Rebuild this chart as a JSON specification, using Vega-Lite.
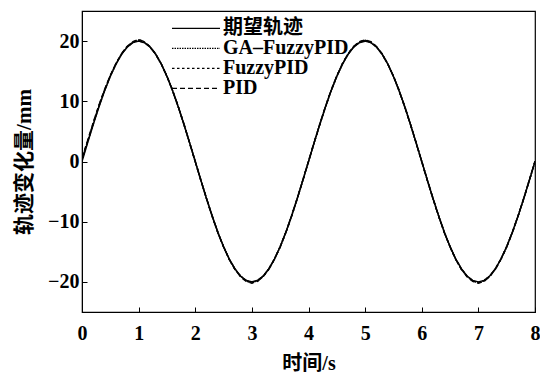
{
  "$schema": "https://vega.github.io/schema/vega-lite/v6.json",
  "width": 453,
  "height": 301,
  "autosize": {"type": "none"},
  "padding": {"left": 82, "top": 11, "right": 5, "bottom": 60},
  "background": "white",
  "config": {
    "view": {"stroke": "black", "strokeWidth": 1.2},
    "axis": {
      "domainColor": "black",
      "tickColor": "black",
      "grid": false,
      "tickSize": -5
    }
  },
  "data": {
    "values": [
      {"t":0.0,"ref":0,"ga":0.3,"fz":0.4,"pid":0.5},
      {"t":0.1,"ref":3.13,"ga":3.3,"fz":3.4,"pid":3.5},
      {"t":0.2,"ref":6.18,"ga":6.3,"fz":6.4,"pid":6.5},
      {"t":0.3,"ref":9.08,"ga":9.2,"fz":9.3,"pid":9.4},
      {"t":0.4,"ref":11.76,"ga":11.85,"fz":11.9,"pid":12.0},
      {"t":0.5,"ref":14.14,"ga":14.2,"fz":14.25,"pid":14.3},
      {"t":0.6,"ref":16.18,"ga":16.2,"fz":16.25,"pid":16.3},
      {"t":0.7,"ref":17.82,"ga":17.85,"fz":17.9,"pid":17.95},
      {"t":0.8,"ref":19.02,"ga":19.05,"fz":19.1,"pid":19.15},
      {"t":0.9,"ref":19.75,"ga":19.8,"fz":19.85,"pid":19.9},
      {"t":1.0,"ref":20,"ga":20.1,"fz":20.2,"pid":20.3},
      {"t":1.1,"ref":19.75,"ga":19.8,"fz":19.85,"pid":19.9},
      {"t":1.2,"ref":19.02,"ga":19.05,"fz":19.1,"pid":19.1},
      {"t":1.3,"ref":17.82,"ga":17.85,"fz":17.85,"pid":17.9},
      {"t":1.4,"ref":16.18,"ga":16.2,"fz":16.2,"pid":16.2},
      {"t":1.5,"ref":14.14,"ga":14.15,"fz":14.15,"pid":14.2},
      {"t":1.6,"ref":11.76,"ga":11.76,"fz":11.8,"pid":11.8},
      {"t":1.7,"ref":9.08,"ga":9.08,"fz":9.1,"pid":9.1},
      {"t":1.8,"ref":6.18,"ga":6.18,"fz":6.2,"pid":6.2},
      {"t":1.9,"ref":3.13,"ga":3.13,"fz":3.1,"pid":3.1},
      {"t":2.0,"ref":0,"ga":0,"fz":0,"pid":0},
      {"t":2.1,"ref":-3.13,"ga":-3.13,"fz":-3.15,"pid":-3.15},
      {"t":2.2,"ref":-6.18,"ga":-6.2,"fz":-6.2,"pid":-6.2},
      {"t":2.3,"ref":-9.08,"ga":-9.1,"fz":-9.1,"pid":-9.1},
      {"t":2.4,"ref":-11.76,"ga":-11.8,"fz":-11.8,"pid":-11.85},
      {"t":2.5,"ref":-14.14,"ga":-14.15,"fz":-14.2,"pid":-14.2},
      {"t":2.6,"ref":-16.18,"ga":-16.2,"fz":-16.25,"pid":-16.25},
      {"t":2.7,"ref":-17.82,"ga":-17.85,"fz":-17.9,"pid":-17.9},
      {"t":2.8,"ref":-19.02,"ga":-19.05,"fz":-19.1,"pid":-19.15},
      {"t":2.9,"ref":-19.75,"ga":-19.8,"fz":-19.85,"pid":-19.9},
      {"t":3.0,"ref":-20,"ga":-20.1,"fz":-20.15,"pid":-20.2},
      {"t":3.1,"ref":-19.75,"ga":-19.8,"fz":-19.85,"pid":-19.9},
      {"t":3.2,"ref":-19.02,"ga":-19.05,"fz":-19.1,"pid":-19.1},
      {"t":3.3,"ref":-17.82,"ga":-17.85,"fz":-17.85,"pid":-17.9},
      {"t":3.4,"ref":-16.18,"ga":-16.2,"fz":-16.2,"pid":-16.2},
      {"t":3.5,"ref":-14.14,"ga":-14.15,"fz":-14.15,"pid":-14.2},
      {"t":3.6,"ref":-11.76,"ga":-11.76,"fz":-11.8,"pid":-11.8},
      {"t":3.7,"ref":-9.08,"ga":-9.08,"fz":-9.1,"pid":-9.1},
      {"t":3.8,"ref":-6.18,"ga":-6.18,"fz":-6.2,"pid":-6.2},
      {"t":3.9,"ref":-3.13,"ga":-3.13,"fz":-3.1,"pid":-3.1},
      {"t":4.0,"ref":0,"ga":0,"fz":0,"pid":0},
      {"t":4.1,"ref":3.13,"ga":3.13,"fz":3.15,"pid":3.15},
      {"t":4.2,"ref":6.18,"ga":6.2,"fz":6.2,"pid":6.2},
      {"t":4.3,"ref":9.08,"ga":9.1,"fz":9.1,"pid":9.1},
      {"t":4.4,"ref":11.76,"ga":11.8,"fz":11.8,"pid":11.85},
      {"t":4.5,"ref":14.14,"ga":14.15,"fz":14.2,"pid":14.2},
      {"t":4.6,"ref":16.18,"ga":16.2,"fz":16.25,"pid":16.25},
      {"t":4.7,"ref":17.82,"ga":17.85,"fz":17.9,"pid":17.9},
      {"t":4.8,"ref":19.02,"ga":19.05,"fz":19.1,"pid":19.15},
      {"t":4.9,"ref":19.75,"ga":19.8,"fz":19.85,"pid":19.9},
      {"t":5.0,"ref":20,"ga":20.1,"fz":20.15,"pid":20.2},
      {"t":5.1,"ref":19.75,"ga":19.8,"fz":19.85,"pid":19.9},
      {"t":5.2,"ref":19.02,"ga":19.05,"fz":19.1,"pid":19.1},
      {"t":5.3,"ref":17.82,"ga":17.85,"fz":17.85,"pid":17.9},
      {"t":5.4,"ref":16.18,"ga":16.2,"fz":16.2,"pid":16.2},
      {"t":5.5,"ref":14.14,"ga":14.15,"fz":14.15,"pid":14.2},
      {"t":5.6,"ref":11.76,"ga":11.76,"fz":11.8,"pid":11.8},
      {"t":5.7,"ref":9.08,"ga":9.08,"fz":9.1,"pid":9.1},
      {"t":5.8,"ref":6.18,"ga":6.18,"fz":6.2,"pid":6.2},
      {"t":5.9,"ref":3.13,"ga":3.13,"fz":3.1,"pid":3.1},
      {"t":6.0,"ref":0,"ga":0,"fz":0,"pid":0},
      {"t":6.1,"ref":-3.13,"ga":-3.13,"fz":-3.15,"pid":-3.15},
      {"t":6.2,"ref":-6.18,"ga":-6.2,"fz":-6.2,"pid":-6.2},
      {"t":6.3,"ref":-9.08,"ga":-9.1,"fz":-9.1,"pid":-9.1},
      {"t":6.4,"ref":-11.76,"ga":-11.8,"fz":-11.8,"pid":-11.85},
      {"t":6.5,"ref":-14.14,"ga":-14.15,"fz":-14.2,"pid":-14.2},
      {"t":6.6,"ref":-16.18,"ga":-16.2,"fz":-16.25,"pid":-16.25},
      {"t":6.7,"ref":-17.82,"ga":-17.85,"fz":-17.9,"pid":-17.9},
      {"t":6.8,"ref":-19.02,"ga":-19.05,"fz":-19.1,"pid":-19.15},
      {"t":6.9,"ref":-19.75,"ga":-19.8,"fz":-19.85,"pid":-19.9},
      {"t":7.0,"ref":-20,"ga":-20.1,"fz":-20.15,"pid":-20.2},
      {"t":7.1,"ref":-19.75,"ga":-19.8,"fz":-19.85,"pid":-19.9},
      {"t":7.2,"ref":-19.02,"ga":-19.05,"fz":-19.1,"pid":-19.1},
      {"t":7.3,"ref":-17.82,"ga":-17.85,"fz":-17.85,"pid":-17.9},
      {"t":7.4,"ref":-16.18,"ga":-16.2,"fz":-16.2,"pid":-16.2},
      {"t":7.5,"ref":-14.14,"ga":-14.15,"fz":-14.15,"pid":-14.2},
      {"t":7.6,"ref":-11.76,"ga":-11.76,"fz":-11.8,"pid":-11.8},
      {"t":7.7,"ref":-9.08,"ga":-9.08,"fz":-9.1,"pid":-9.1},
      {"t":7.8,"ref":-6.18,"ga":-6.18,"fz":-6.2,"pid":-6.2},
      {"t":7.9,"ref":-3.13,"ga":-3.13,"fz":-3.1,"pid":-3.1},
      {"t":8.0,"ref":0,"ga":0,"fz":0,"pid":0}
    ]
  },
  "transform": [
    {"fold": ["ref", "ga", "fz", "pid"], "as": ["key", "value"]},
    {"lookup": "key", "from": {"data": {"values": [
      {"key": "ref", "series": "期望轨迹"},
      {"key": "ga", "series": "GA–FuzzyPID"},
      {"key": "fz", "series": "FuzzyPID"},
      {"key": "pid", "series": "PID"}
    ]}, "key": "key", "fields": ["series"]}}
  ],
  "mark": {"type": "line", "color": "black", "strokeWidth": 1.5, "clip": true},
  "encoding": {
    "x": {
      "field": "t", "type": "quantitative",
      "scale": {"domain": [0, 8], "nice": false},
      "axis": {
        "title": "时间/s", "values": [0,1,2,3,4,5,6,7,8],
        "labelFont": "Liberation Serif", "labelFontWeight": "bold", "labelFontSize": 20, "labelColor": "black",
        "titleFont": "Liberation Serif, Noto Sans CJK SC", "titleFontWeight": "bold", "titleFontSize": 20, "titleColor": "black",
        "labelPadding": 16, "titlePadding": 10, "labelFlush": false
      }
    },
    "y": {
      "field": "value", "type": "quantitative",
      "scale": {"domain": [-25, 25], "nice": false},
      "axis": {
        "title": "轨迹变化量/mm", "values": [-20,-10,0,10,20],
        "labelFont": "Liberation Serif", "labelFontWeight": "bold", "labelFontSize": 20, "labelColor": "black",
        "titleFont": "Liberation Serif, Noto Sans CJK SC", "titleFontWeight": "bold", "titleFontSize": 21, "titleColor": "black",
        "labelPadding": 8, "titlePadding": 13
      }
    },
    "strokeDash": {
      "field": "series", "type": "nominal",
      "scale": {
        "domain": ["期望轨迹", "GA–FuzzyPID", "FuzzyPID", "PID"],
        "range": [[1, 0], [1.5, 1], [2.5, 2.5], [5, 3]]
      },
      "legend": {
        "title": null,
        "orient": "none",
        "legendX": 89,
        "legendY": 8,
        "symbolType": "stroke",
        "symbolSize": 2300,
        "clipHeight": 18.7,
        "symbolStrokeColor": "black",
        "symbolStrokeWidth": 1.2,
        "rowPadding": -4,
        "labelOffset": 2,
        "labelFont": "Liberation Serif, Noto Sans CJK SC",
        "labelFontWeight": "bold",
        "labelFontSize": 20,
        "labelColor": "black",
        "fillColor": "transparent",
        "padding": 0
      }
    }
  }
}
